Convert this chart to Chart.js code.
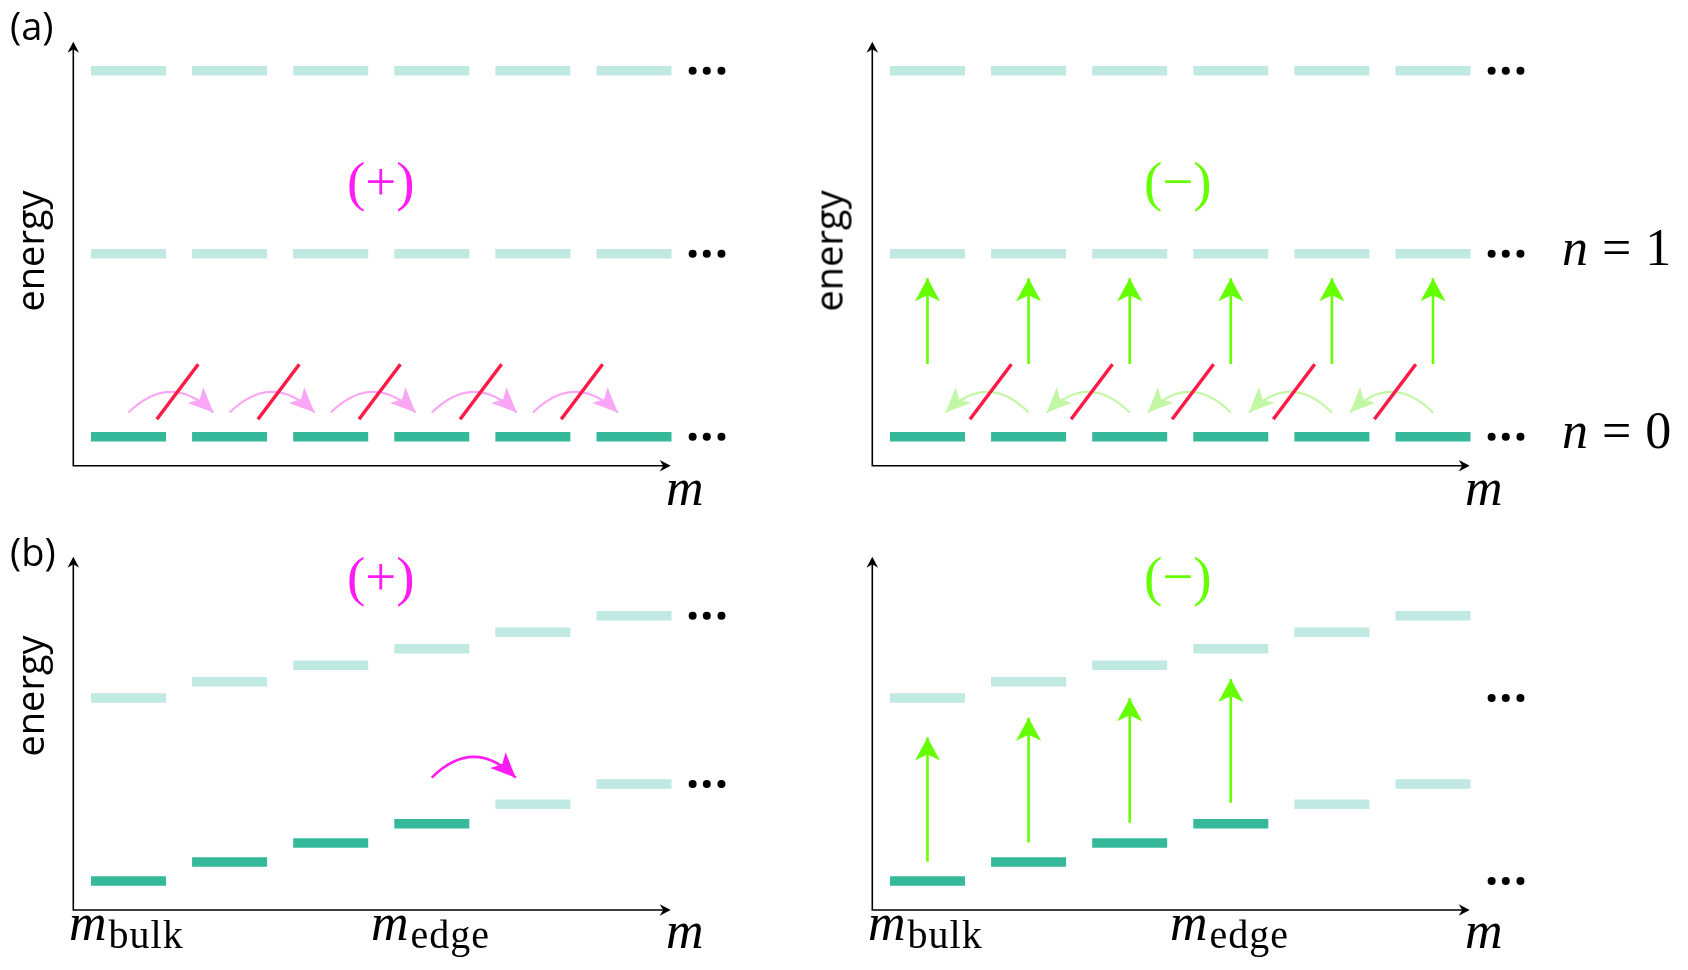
<!DOCTYPE html>
<html>
<head>
<meta charset="utf-8">
<script src="https://cdn.jsdelivr.net/npm/chart.js@4.4.0/dist/chart.umd.min.js"></script>
<style>
  body { margin: 0; background: #fff; }
  #page { position: relative; width: 1688px; height: 970px; overflow: hidden; background: #fff; }
  canvas { position: absolute; }
  .lbl { position: absolute; white-space: nowrap; line-height: 1; }
  .serif { font-family: "Liberation Serif", "Times New Roman", serif; }
  .sans { font-family: "Open Sans", sans-serif; }
</style>
</head>
<body>
<div id="page">
  <canvas id="topLeft" width="760" height="490" style="left:0;top:0"></canvas>
  <canvas id="topRight" width="760" height="490" style="left:799px;top:0"></canvas>
  <canvas id="botLeft" width="760" height="420" style="left:0;top:520px"></canvas>
  <canvas id="botRight" width="760" height="420" style="left:799px;top:520px"></canvas>
</div>
<script>
// angular momentum index of each level
const levelsM = [1, 2, 3, 4, 5, 6];

// (a) flat Landau-like levels
const flatN0 = [0, 0, 0, 0, 0, 0];
const flatN1 = [1, 1, 1, 1, 1, 1];
const flatN2 = [2, 2, 2, 2, 2, 2];

// (b) levels bending up towards the edge
const edgeN0 = [0, 0.104, 0.208, 0.313, 0.42, 0.53];
const edgeN1 = [1.0, 1.09, 1.18, 1.27, 1.36, 1.45];
const filledM = [1, 2, 3, 4];
const emptyM = [5, 6];

// "..." markers
const dotsM = [6.58, 6.72, 6.865];
const dotRowsA = [0, 1, 2];
const dotRowsBLeft = [0.53, 1.45];
const dotRowsBRight = [0, 1.0];

// end of the m axis arrow
const axisEndM = 6.363;

// (a) blocked hops, (+) to the right, (-) to the left
const hopFromPlus = [1, 2, 3, 4, 5];
const hopToPlus = [1.84, 2.84, 3.84, 4.84, 5.84];
const hopFromMinus = [2, 3, 4, 5, 6];
const hopToMinus = [1.18, 2.18, 3.18, 4.18, 5.18];
const hopLevelA = 0.132;
const hopPeak = 0.113;

const slashPlusFrom = [1.28, 2.28, 3.28, 4.28, 5.28];
const slashPlusTo = [1.69, 2.69, 3.69, 4.69, 5.69];
const slashMinusFrom = [1.42, 2.42, 3.42, 4.42, 5.42];
const slashMinusTo = [1.83, 2.83, 3.83, 4.83, 5.83];
const slashLow = 0.095;
const slashHigh = 0.396;

// (a) (-) excitations n=0 -> n=1
const upFromA = [0.397, 0.397, 0.397, 0.397, 0.397, 0.397];
const upToA = [0.866, 0.866, 0.866, 0.866, 0.866, 0.866];

// (b) (+) hop at the edge, (-) excitations in the bulk
const hopFromB = 4;
const hopToB = 4.83;
const hopLevelB = 0.565;
const upM_B = [1, 2, 3, 4];
const upFromB = [0.105, 0.211, 0.319, 0.428];
const upToB = [0.785, 0.893, 0.999, 1.104];

const DARK = '#36b99b';
const LIGHT = '#c0e9e1';
const MAGENTA = '#ff1cf2';
const PINK = '#f9a6f6';
const LIME = '#66ff00';
const PALE_LIME = '#c3f7a6';
const RED = '#ff1a48';
const HALF = 0.371;

function levelRow(ms, es, color) {
  const pts = [];
  ms.forEach((m, i) => {
    pts.push({ x: m - HALF, y: es[i] }, { x: m + HALF, y: es[i] }, { x: m + 0.5, y: null });
  });
  return { data: pts, showLine: true, borderColor: color, borderWidth: 9.5,
    borderCapStyle: 'butt', pointRadius: 0, spanGaps: false, clip: false };
}

function segments(x0, y0, x1, y1, color, width, arrow) {
  const pts = [];
  x0.forEach((x, i) => {
    pts.push({ x: x, y: y0[i] }, { x: x1[i], y: y1[i] }, { x: x, y: null });
  });
  return { data: pts, showLine: true, borderColor: color, borderWidth: width,
    borderCapStyle: 'butt', pointRadius: 0, spanGaps: false, clip: false, arrowHead: arrow };
}

function dots(rows) {
  const pts = [];
  rows.forEach(e => dotsM.forEach(x => pts.push({ x: x, y: e })));
  return { data: pts, showLine: false, pointRadius: 4, pointBackgroundColor: '#000',
    backgroundColor: '#000', pointBorderWidth: 0, borderWidth: 0, clip: false };
}

function pick(ms, all) {
  return ms.map(m => all[levelsM.indexOf(m)]);
}

function head(ctx, x, y, ang, len, wid, notch) {
  ctx.save();
  ctx.translate(x, y);
  ctx.rotate(ang);
  ctx.beginPath();
  ctx.moveTo(0, 0);
  ctx.lineTo(-len, -wid);
  ctx.lineTo(-len + notch, 0);
  ctx.lineTo(-len, wid);
  ctx.closePath();
  ctx.fill();
  ctx.restore();
}

const axesPlugin = {
  id: 'arrowAxes',
  beforeDatasetsDraw(chart) {
    const { ctx, chartArea: a, scales: { x } } = chart;
    const xEnd = x.getPixelForValue(axisEndM);
    ctx.save();
    ctx.strokeStyle = '#000';
    ctx.fillStyle = '#000';
    ctx.lineWidth = 1.6;
    ctx.beginPath();
    ctx.moveTo(a.left, a.top + 6);
    ctx.lineTo(a.left, a.bottom);
    ctx.lineTo(xEnd - 6, a.bottom);
    ctx.stroke();
    head(ctx, a.left, a.top, -Math.PI / 2, 11, 5.8, 3.5);
    head(ctx, xEnd, a.bottom, 0, 11, 5.8, 3.5);
    ctx.restore();
  }
};

// arrow heads at the end of every segment of datasets flagged arrowHead
const headsPlugin = {
  id: 'segmentHeads',
  afterDatasetsDraw(chart) {
    const ctx = chart.ctx;
    chart.data.datasets.forEach((ds, di) => {
      if (!ds.arrowHead) return;
      const pts = chart.getDatasetMeta(di).data;
      ctx.save();
      ctx.fillStyle = ds.borderColor;
      for (let i = 0; i + 1 < pts.length; i += 3) {
        const a = pts[i], b = pts[i + 1];
        head(ctx, b.x, b.y, Math.atan2(b.y - a.y, b.x - a.x), 23, 12.5, 6);
      }
      ctx.restore();
    });
  }
};

// curved hopping arrows between neighbouring m
function hopsPlugin(from, to, level, peak, color, width) {
  return {
    id: 'hops',
    beforeDatasetsDraw(chart) {
      const { ctx, scales: { x, y } } = chart;
      ctx.save();
      ctx.strokeStyle = color;
      ctx.fillStyle = color;
      ctx.lineWidth = width;
      from.forEach((m0, i) => {
        const m1 = to[i];
        const x0 = x.getPixelForValue(m0), x1 = x.getPixelForValue(m1);
        const yb = y.getPixelForValue(level);
        const cx = x.getPixelForValue((m0 + m1) / 2);
        const cy = y.getPixelForValue(level + 2 * peak);
        ctx.beginPath();
        ctx.moveTo(x0, yb);
        ctx.quadraticCurveTo(cx, cy, x1, yb);
        ctx.stroke();
        head(ctx, x1, yb, Math.atan2(yb - cy, x1 - cx), 25, 11, 6);
      });
      ctx.restore();
    }
  };
}

function makeChart(id, datasets, pad, yMax, hops) {
  return new Chart(document.getElementById(id), {
    type: 'scatter',
    data: { datasets: datasets },
    options: {
      responsive: false,
      animation: false,
      events: [],
      layout: { padding: pad },
      scales: {
        x: { type: 'linear', min: 0.454, max: 7.0, display: false },
        y: { type: 'linear', min: -0.1585, max: yMax, display: false }
      },
      plugins: { legend: { display: false }, tooltip: { enabled: false } }
    },
    plugins: [axesPlugin, hops, headsPlugin]
  });
}

const padTop = { left: 73.3, top: 41.7, right: 24.9, bottom: 24.3 };
const padBot = { left: 73.3, top: 36.7, right: 24.9, bottom: 30 };
const slashLows = slashPlusFrom.map(() => slashLow);
const slashHighs = slashPlusFrom.map(() => slashHigh);

makeChart('topLeft', [
  segments(slashPlusFrom, slashLows, slashPlusTo, slashHighs, RED, 3.5, false),
  dots(dotRowsA),
  levelRow(levelsM, flatN0, DARK),
  levelRow(levelsM, flatN1, LIGHT),
  levelRow(levelsM, flatN2, LIGHT)
], padTop, 2.159, hopsPlugin(hopFromPlus, hopToPlus, hopLevelA, hopPeak, PINK, 2.2));

makeChart('topRight', [
  segments(levelsM, upFromA, levelsM, upToA, LIME, 2.6, true),
  segments(slashMinusFrom, slashLows, slashMinusTo, slashHighs, RED, 3.5, false),
  dots(dotRowsA),
  levelRow(levelsM, flatN0, DARK),
  levelRow(levelsM, flatN1, LIGHT),
  levelRow(levelsM, flatN2, LIGHT)
], padTop, 2.159, hopsPlugin(hopFromMinus, hopToMinus, hopLevelA, hopPeak, PALE_LIME, 2.2));

makeChart('botLeft', [
  dots(dotRowsBLeft),
  levelRow(filledM, pick(filledM, edgeN0), DARK),
  levelRow(emptyM, pick(emptyM, edgeN0), LIGHT),
  levelRow(levelsM, edgeN1, LIGHT)
], padBot, 1.773, hopsPlugin([hopFromB], [hopToB], hopLevelB, hopPeak, MAGENTA, 2.6));

makeChart('botRight', [
  segments(upM_B, upFromB, upM_B, upToB, LIME, 2.6, true),
  dots(dotRowsBRight),
  levelRow(filledM, pick(filledM, edgeN0), DARK),
  levelRow(emptyM, pick(emptyM, edgeN0), LIGHT),
  levelRow(levelsM, edgeN1, LIGHT)
], padBot, 1.773, hopsPlugin([], [], 0, 0, MAGENTA, 1));

// text labels, placed by baseline
const page = document.getElementById('page');
function label(html, x, base, cls, css, center) {
  const d = document.createElement('div');
  d.className = 'lbl ' + cls;
  d.innerHTML = html + '<span class="bl" style="display:inline-block;width:0;height:0;vertical-align:baseline"></span>';
  d.style.cssText += css;
  page.appendChild(d);
  const off = d.querySelector('.bl').offsetTop;
  d.style.top = (base - off) + 'px';
  d.style.left = (center ? x - d.offsetWidth / 2 : x) + 'px';
}
function rotated(text, cx, cy) {
  const d = document.createElement('div');
  d.className = 'lbl sans';
  d.textContent = text;
  d.style.cssText += 'font-size:38px;';
  page.appendChild(d);
  d.style.left = (cx - d.offsetWidth / 2) + 'px';
  d.style.top = (cy - d.offsetHeight / 2) + 'px';
  d.style.transform = 'rotate(-90deg)';
}

const sub = s => '<i>m</i><span style="font-size:40px;letter-spacing:1px;position:relative;top:8px;margin-left:2px">' + s + '</span>';

label('(a)', 10, 40, 'sans', 'font-size:38px;');
label('(b)', 10, 566, 'sans', 'font-size:38px;');
rotated('energy', 28, 251);
rotated('energy', 28, 696);
rotated('energy', 827, 251);

label('(+)', 381, 200, 'serif', 'font-size:55px;color:' + MAGENTA + ';', true);
label('(\u2212)', 1178, 200, 'serif', 'font-size:55px;color:' + LIME + ';', true);
label('(+)', 381, 595, 'serif', 'font-size:55px;color:' + MAGENTA + ';', true);
label('(\u2212)', 1178, 595, 'serif', 'font-size:55px;color:' + LIME + ';', true);

label('<i>m</i>', 666, 505, 'serif', 'font-size:52px;');
label('<i>m</i>', 1465, 505, 'serif', 'font-size:52px;');
label('<i>m</i>', 666, 948, 'serif', 'font-size:52px;');
label('<i>m</i>', 1465, 948, 'serif', 'font-size:52px;');

label('<i>n</i><span style="margin:0 14px">=</span>1', 1562, 265, 'serif', 'font-size:52px;');
label('<i>n</i><span style="margin:0 14px">=</span>0', 1562, 448, 'serif', 'font-size:52px;');

label(sub('bulk'), 69, 940, 'serif', 'font-size:52px;');
label(sub('edge'), 371, 940, 'serif', 'font-size:52px;');
label(sub('bulk'), 868, 940, 'serif', 'font-size:52px;');
label(sub('edge'), 1170, 940, 'serif', 'font-size:52px;');
</script>
</body>
</html>
